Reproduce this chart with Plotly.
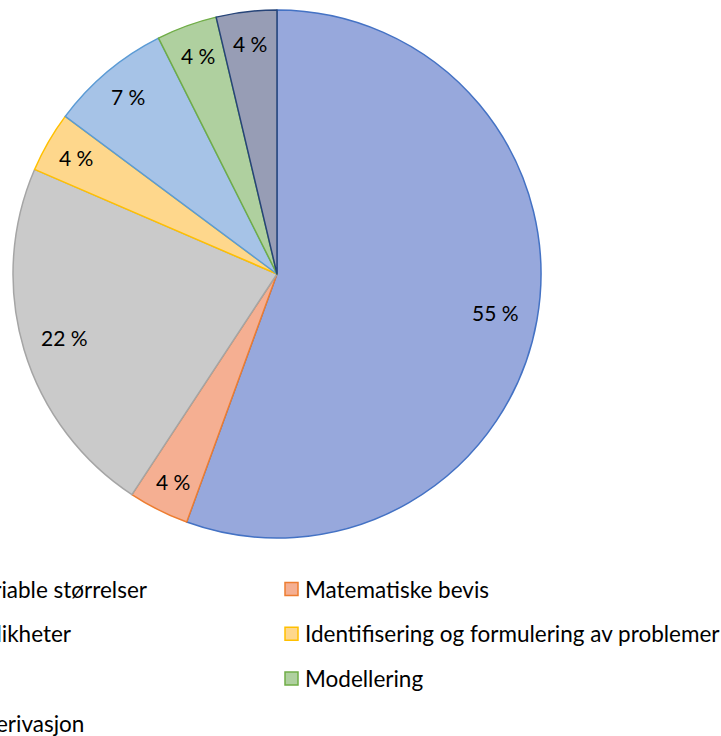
import math
import plotly.graph_objects as go

# ---- data ----
categories = [
    "Ukjente og variable størrelser",
    "Matematiske bevis",
    "Likninger og ulikheter",
    "Identifisering og formulering av problemer",
    "Funksjoner",
    "Modellering",
    "Vekstfart og derivasjon",
]
counts = [15, 1, 6, 1, 2, 1, 1]
pct_labels = ["55 %", "4 %", "22 %", "4 %", "7 %", "4 %", "4 %"]

fill_colors = ["#97A8DC", "#F5AF92", "#CACACA", "#FED78C", "#A6C3E7", "#AFD09F", "#979DB5"]
edge_colors = ["#4472C4", "#ED7D31", "#A5A5A5", "#FFC000", "#5B9BD5", "#70AD47", "#264478"]

# ---- layout constants (pixels) ----
W, H = 721, 736
CX, CY, R = 277, 274, 264
FONT = "Lato"

def px(x):
    return x / W

def py(y):
    return 1 - y / H

fig = go.Figure()
fig.add_trace(go.Pie(
    labels=categories,
    values=counts,
    sort=False,
    direction="clockwise",
    rotation=0,
    textposition="none",
    marker=dict(colors=fill_colors, line=dict(color=edge_colors, width=1.5)),
    domain=dict(x=[px(CX - R), px(CX + R)], y=[py(CY + R), py(CY - R)]),
    showlegend=False,
    hoverinfo="label+percent",
))

annotations = []
shapes = []

# percentage labels at slice bisectors
total = sum(counts)
cum = 0
for v, lab in zip(counts, pct_labels):
    frac = v / total
    mid = (cum + frac / 2) * 2 * math.pi
    cum += frac
    rf = 0.84 if frac > 0.1 else 0.88
    x = CX + rf * R * math.sin(mid)
    y = CY - rf * R * math.cos(mid)
    annotations.append(dict(
        x=px(x), y=py(y), xref="paper", yref="paper", text=lab, showarrow=False,
        xanchor="center", yanchor="middle", font=dict(family=FONT, size=21, color="#000000"),
    ))

# legend (two columns, row-major), partly cropped on the left like the reference
COL_X = [285 - 447, 285]
ROW_Y0, ROW_DY, SW = 589, 44.8, 13
for i, (name, fc, ec) in enumerate(zip(categories, fill_colors, edge_colors)):
    col, row = i % 2, i // 2
    sx = COL_X[col]
    sy = ROW_Y0 + row * ROW_DY
    shapes.append(dict(
        type="rect", xref="paper", yref="paper",
        x0=px(sx), x1=px(sx + SW), y0=py(sy + SW / 2), y1=py(sy - SW / 2),
        fillcolor=fc, line=dict(color=ec, width=1.5),
    ))
    annotations.append(dict(
        x=px(sx + SW + 5), y=py(sy), xref="paper", yref="paper", text=name, showarrow=False,
        xanchor="left", yanchor="middle", font=dict(family=FONT, size=22.5, color="#000000"),
    ))

fig.update_layout(
    width=W, height=H,
    margin=dict(l=0, r=0, t=0, b=0, autoexpand=False),
    paper_bgcolor="white", plot_bgcolor="white",
    annotations=annotations, shapes=shapes,
)

fig.write_html("out.html")
